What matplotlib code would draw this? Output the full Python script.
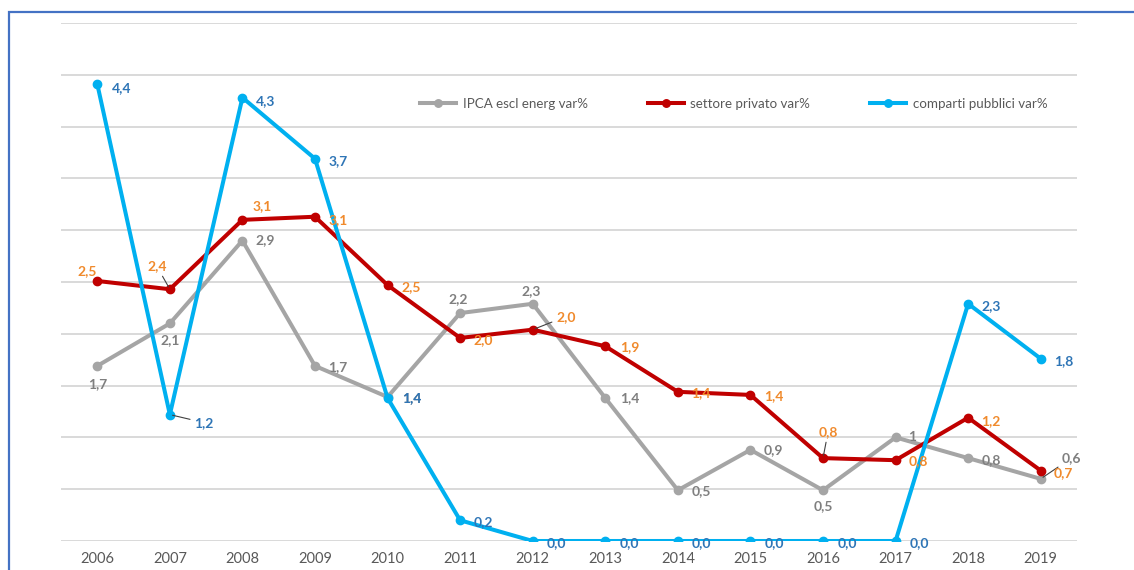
#!/usr/bin/env python3

import matplotlib
matplotlib.use('Agg')
import matplotlib.pyplot as plt
from matplotlib.patches import Rectangle

plt.rcParams['font.family'] = ['Lato', 'DejaVu Sans']

years = ['2006', '2007', '2008', '2009', '2010', '2011', '2012',
         '2013', '2014', '2015', '2016', '2017', '2018', '2019']

ipca = [1.69, 2.10, 2.90, 1.69, 1.39, 2.20, 2.29, 1.38, 0.49, 0.88, 0.49, 1.00, 0.80, 0.60]
privato = [2.51, 2.43, 3.10, 3.13, 2.47, 1.96, 2.04, 1.88, 1.44, 1.41, 0.80, 0.78, 1.19, 0.68]
pubblici = [4.41, 1.22, 4.28, 3.69, 1.38, 0.20, 0.0, 0.0, 0.0, 0.0, 0.0, 0.0, 2.29, 1.76]

ipca_labels = ['1,7', '2,1', '2,9', '1,7', '1,4', '2,2', '2,3', '1,4', '0,5', '0,9', '0,5', '1', '0,8', '0,6']
privato_labels = ['2,5', '2,4', '3,1', '3,1', '2,5', '2,0', '2,0', '1,9', '1,4', '1,4', '0,8', '0,8', '1,2', '0,7']
pubblici_labels = ['4,4', '1,2', '4,3', '3,7', '1,4', '0,2', '0,0', '0,0', '0,0', '0,0', '0,0', '0,0', '2,3', '1,8']

series_names = ['IPCA escl energ var%', 'settore privato var%', 'comparti pubblici var%']

# label offsets in pixels (dx, dy), y up
ipca_off = [(0, -18), (0, -17), (23, 0), (23, -1), (24, -1), (-2, 14), (-2, 13),
            (24, 0), (23, -1), (23, 0), (0, -16), (17, 0), (23, -2), (31, 21)]
privato_off = [(-10, 10), (-13, 23), (20, 14), (23, -3), (24, -2), (23, -2), (33, 13),
               (24, -1), (23, -1), (23, -1), (5, 26), (23, -1), (23, -3), (23, -3)]
pubblici_off = [(24, -4), (34, -8), (23, -3), (23, -2), (24, 0), (23, -2), (24, -2),
                (24, -2), (24, -2), (24, -2), (24, -2), (24, -2), (23, -2), (23, -2)]
# points that get a leader line
ipca_lead = [13]
privato_lead = [1, 6, 10]
pubblici_lead = [1]

fig = plt.figure(figsize=(11.34, 5.70), dpi=100)
ax = fig.add_axes([61 / 1134, 29 / 570, 1016 / 1134, 518 / 570])

x = list(range(len(years)))
ax.plot(x, ipca, color='#A5A5A5', lw=2.9, marker='o', ms=6, label=series_names[0], zorder=3)
ax.plot(x, privato, color='#C00000', lw=2.9, marker='o', ms=6, label=series_names[1], zorder=4)
ax.plot(x, pubblici, color='#00B0F0', lw=2.9, marker='o', ms=6, label=series_names[2], zorder=5)


def put_labels(vals, labels, offs, leads, color):
  for i, v in enumerate(vals):
    dx, dy = offs[i]
    arrow = None
    if i in leads:
      arrow = dict(arrowstyle='-', color='#404040', lw=0.8, shrinkA=1, shrinkB=2)
    ax.annotate(labels[i], (i, v), xytext=(dx, dy), textcoords='offset pixels',
                ha='center', va='center', color=color, fontsize=10, fontweight='bold',
                zorder=6, arrowprops=arrow)


put_labels(ipca, ipca_labels, ipca_off, ipca_lead, '#7F7F7F')
put_labels(privato, privato_labels, privato_off, privato_lead, '#F08A2C')
put_labels(pubblici, pubblici_labels, pubblici_off, pubblici_lead, '#2E75B6')

ax.set_xlim(-0.5, len(years) - 0.5)
ax.set_ylim(0, 5)
ax.set_yticks([i * 0.5 for i in range(11)])
ax.set_yticklabels([])
ax.set_xticks(x)
ax.set_xticklabels(years, fontsize=10.5, color='#595959')
ax.tick_params(axis='both', length=0)
ax.tick_params(axis='x', pad=8)
ax.grid(axis='y', color='#D9D9D9', lw=1.4)
ax.set_axisbelow(True)
for s in ax.spines.values():
  s.set_visible(False)

leg = fig.legend(loc='center left', bbox_to_anchor=(420 / 1134, 1 - 104 / 570), ncol=3,
                 frameon=False, fontsize=9.6, handlelength=2.7, handletextpad=0.5,
                 columnspacing=4.5, borderaxespad=0, borderpad=0, markerscale=0.9)
for t in leg.get_texts():
  t.set_color('#595959')

fig.patches.append(Rectangle((9 / 1134, -0.1), 1.2, 1.1 - 12.5 / 570, transform=fig.transFigure,
                             fill=False, edgecolor='#4472C4', lw=1.6, clip_on=False))

fig.savefig('out.png', dpi=100)
